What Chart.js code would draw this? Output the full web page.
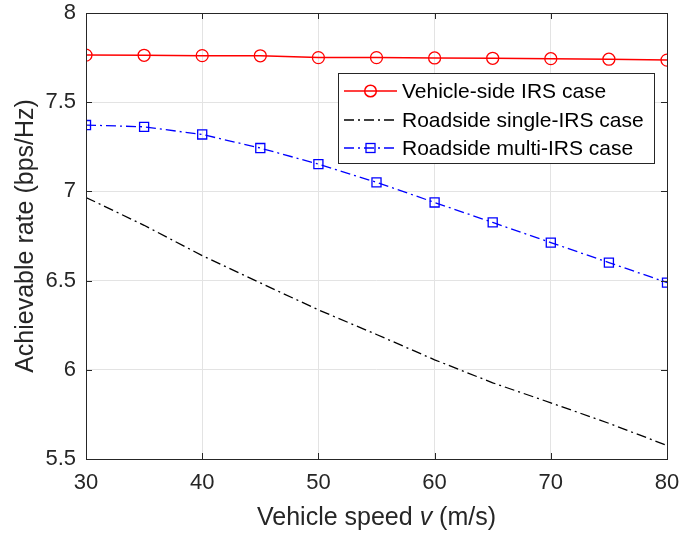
<!DOCTYPE html>
<html lang="en">
<head>
    <meta charset="UTF-8">
    <title>Achievable rate vs vehicle speed</title>
    <script src="https://cdn.jsdelivr.net/npm/chart.js"></script>
    <style>
        html, body { margin: 0; padding: 0; background: #fff; }
    </style>
</head>
<body>
    <canvas id="rate-chart" width="680" height="534"></canvas>

    <script>
        // Data
        const speeds = [30, 35, 40, 45, 50, 55, 60, 65, 70, 75, 80];
        const vehicleSide = [7.764, 7.763, 7.761, 7.760, 7.750, 7.750, 7.748, 7.746, 7.744, 7.741, 7.736];
        const roadsideSingle = [6.966, 6.81, 6.64, 6.487, 6.336, 6.198, 6.056, 5.927, 5.815, 5.70, 5.576];
        const roadsideMulti = [7.372, 7.362, 7.319, 7.243, 7.153, 7.051, 6.938, 6.826, 6.713, 6.601, 6.489];
        const xTicks = [30, 40, 50, 60, 70, 80];
        const yTicks = [5.5, 6, 6.5, 7, 7.5, 8];
        const seriesNames = ['Vehicle-side IRS case', 'Roadside single-IRS case', 'Roadside multi-IRS case'];

        const FONT = '"Liberation Sans", Arial, Helvetica, sans-serif';
        const AXIS = '#262626';

        const toPoints = (ys) => ys.map((y, i) => ({ x: speeds[i], y: y }));

        // MATLAB-like box, inward ticks, x label and legend
        const matlabLook = {
            id: 'matlabLook',
            afterDraw(chart) {
                const ctx = chart.ctx;
                const a = chart.chartArea;
                const xs = chart.scales.x, ys = chart.scales.y;
                ctx.save();

                // ticks (inward, all four sides)
                ctx.strokeStyle = AXIS;
                ctx.lineWidth = 1;
                ctx.beginPath();
                xTicks.forEach(t => {
                    const px = Math.round(xs.getPixelForValue(t)) + 0.5;
                    ctx.moveTo(px, a.bottom); ctx.lineTo(px, a.bottom - 6);
                    ctx.moveTo(px, a.top); ctx.lineTo(px, a.top + 6);
                });
                yTicks.forEach(t => {
                    const py = Math.round(ys.getPixelForValue(t)) + 0.5;
                    ctx.moveTo(a.left, py); ctx.lineTo(a.left + 6, py);
                    ctx.moveTo(a.right, py); ctx.lineTo(a.right - 6, py);
                });
                ctx.stroke();
                ctx.strokeRect(Math.round(a.left) + 0.5, Math.round(a.top) + 0.5,
                    Math.round(a.right - a.left), Math.round(a.bottom - a.top));

                // x axis label with italic v
                const parts = [
                    { t: 'Vehicle speed ', f: '25px ' + FONT },
                    { t: 'v', f: 'italic 25px ' + FONT },
                    { t: ' (m/s)', f: '25px ' + FONT }
                ];
                let total = 0;
                parts.forEach(p => { ctx.font = p.f; p.w = ctx.measureText(p.t).width; total += p.w; });
                let x = (a.left + a.right) / 2 - total / 2;
                ctx.fillStyle = AXIS;
                ctx.textBaseline = 'middle';
                ctx.textAlign = 'left';
                parts.forEach(p => { ctx.font = p.f; ctx.fillText(p.t, x, 518); x += p.w; });

                // legend
                const box = { l: 338, t: 73, r: 654, b: 163 };
                ctx.fillStyle = '#fff';
                ctx.fillRect(box.l, box.t, box.r - box.l, box.b - box.t);
                ctx.strokeStyle = AXIS;
                ctx.lineWidth = 1;
                ctx.setLineDash([]);
                ctx.strokeRect(box.l + 0.5, box.t + 0.5, box.r - box.l, box.b - box.t);
                const rows = [91, 120, 148];
                chart.data.datasets.forEach((ds, i) => {
                    const y = rows[i];
                    ctx.strokeStyle = ds.borderColor;
                    ctx.lineWidth = ds.borderWidth;
                    ctx.setLineDash(ds.borderDash || []);
                    ctx.beginPath();
                    ctx.moveTo(344, y); ctx.lineTo(397, y);
                    ctx.stroke();
                    ctx.setLineDash([]);
                    if (ds.pointStyle === 'circle' && ds.pointRadius > 0) {
                        ctx.beginPath();
                        ctx.arc(370.5, y, 5.8, 0, Math.PI * 2);
                        ctx.stroke();
                    } else if (ds.pointStyle === 'rect' && ds.pointRadius > 0) {
                        ctx.strokeRect(366, y - 4.5, 9, 9);
                    }
                    ctx.fillStyle = '#000';
                    ctx.font = '21px ' + FONT;
                    ctx.textBaseline = 'middle';
                    ctx.fillText(ds.label, 402, y + 1);
                });
                ctx.restore();
            }
        };

        const ctx = document.getElementById('rate-chart').getContext('2d');
        new Chart(ctx, {
            type: 'line',
            data: {
                datasets: [{
                    label: seriesNames[0],
                    data: toPoints(vehicleSide),
                    borderColor: '#ff0000',
                    borderWidth: 1.5,
                    pointStyle: 'circle',
                    pointRadius: 6,
                    pointBorderWidth: 1.3,
                    pointBorderColor: '#ff0000',
                    pointBackgroundColor: 'rgba(0,0,0,0)',
                    fill: false
                }, {
                    label: seriesNames[1],
                    data: toPoints(roadsideSingle),
                    borderColor: '#000000',
                    borderWidth: 1.3,
                    borderDash: [10, 4, 2, 4],
                    pointStyle: 'circle',
                    pointRadius: 0,
                    fill: false
                }, {
                    label: seriesNames[2],
                    data: toPoints(roadsideMulti),
                    borderColor: '#0000ff',
                    borderWidth: 1.3,
                    borderDash: [10, 4, 2, 4],
                    pointStyle: 'rect',
                    pointRadius: 6.4,
                    pointBorderWidth: 1.3,
                    pointBorderColor: '#0000ff',
                    pointBackgroundColor: 'rgba(0,0,0,0)',
                    fill: false
                }]
            },
            options: {
                responsive: false,
                animation: false,
                devicePixelRatio: 1,
                layout: { padding: { top: 13, right: 13, left: 0, bottom: 0 } },
                plugins: {
                    legend: { display: false },
                    tooltip: { enabled: false }
                },
                scales: {
                    x: {
                        type: 'linear',
                        min: 30,
                        max: 80,
                        afterBuildTicks: (scale) => { scale.ticks = xTicks.map(v => ({ value: v })); },
                        afterFit: (scale) => {
                            scale.height = 75;
                            scale.paddingLeft = 0;
                            scale.paddingRight = 0;
                        },
                        grid: { color: '#e3e3e3', drawTicks: false },
                        border: { display: false },
                        ticks: {
                            color: AXIS,
                            font: { family: FONT, size: 22 },
                            padding: 11,
                            maxRotation: 0
                        }
                    },
                    y: {
                        min: 5.5,
                        max: 8,
                        afterBuildTicks: (scale) => { scale.ticks = yTicks.map(v => ({ value: v })); },
                        afterFit: (scale) => {
                            scale.width = 86;
                            scale.paddingTop = 0;
                            scale.paddingBottom = 0;
                        },
                        grid: { color: '#e3e3e3', drawTicks: false },
                        border: { display: false },
                        ticks: {
                            color: AXIS,
                            font: { family: FONT, size: 22 },
                            padding: 10,
                            callback: (v) => String(v)
                        },
                        title: {
                            display: true,
                            text: 'Achievable rate (bps/Hz)',
                            color: AXIS,
                            font: { family: FONT, size: 25 },
                            padding: { top: 11, bottom: 0 }
                        }
                    }
                }
            },
            plugins: [matlabLook]
        });
    </script>
</body>
</html>
